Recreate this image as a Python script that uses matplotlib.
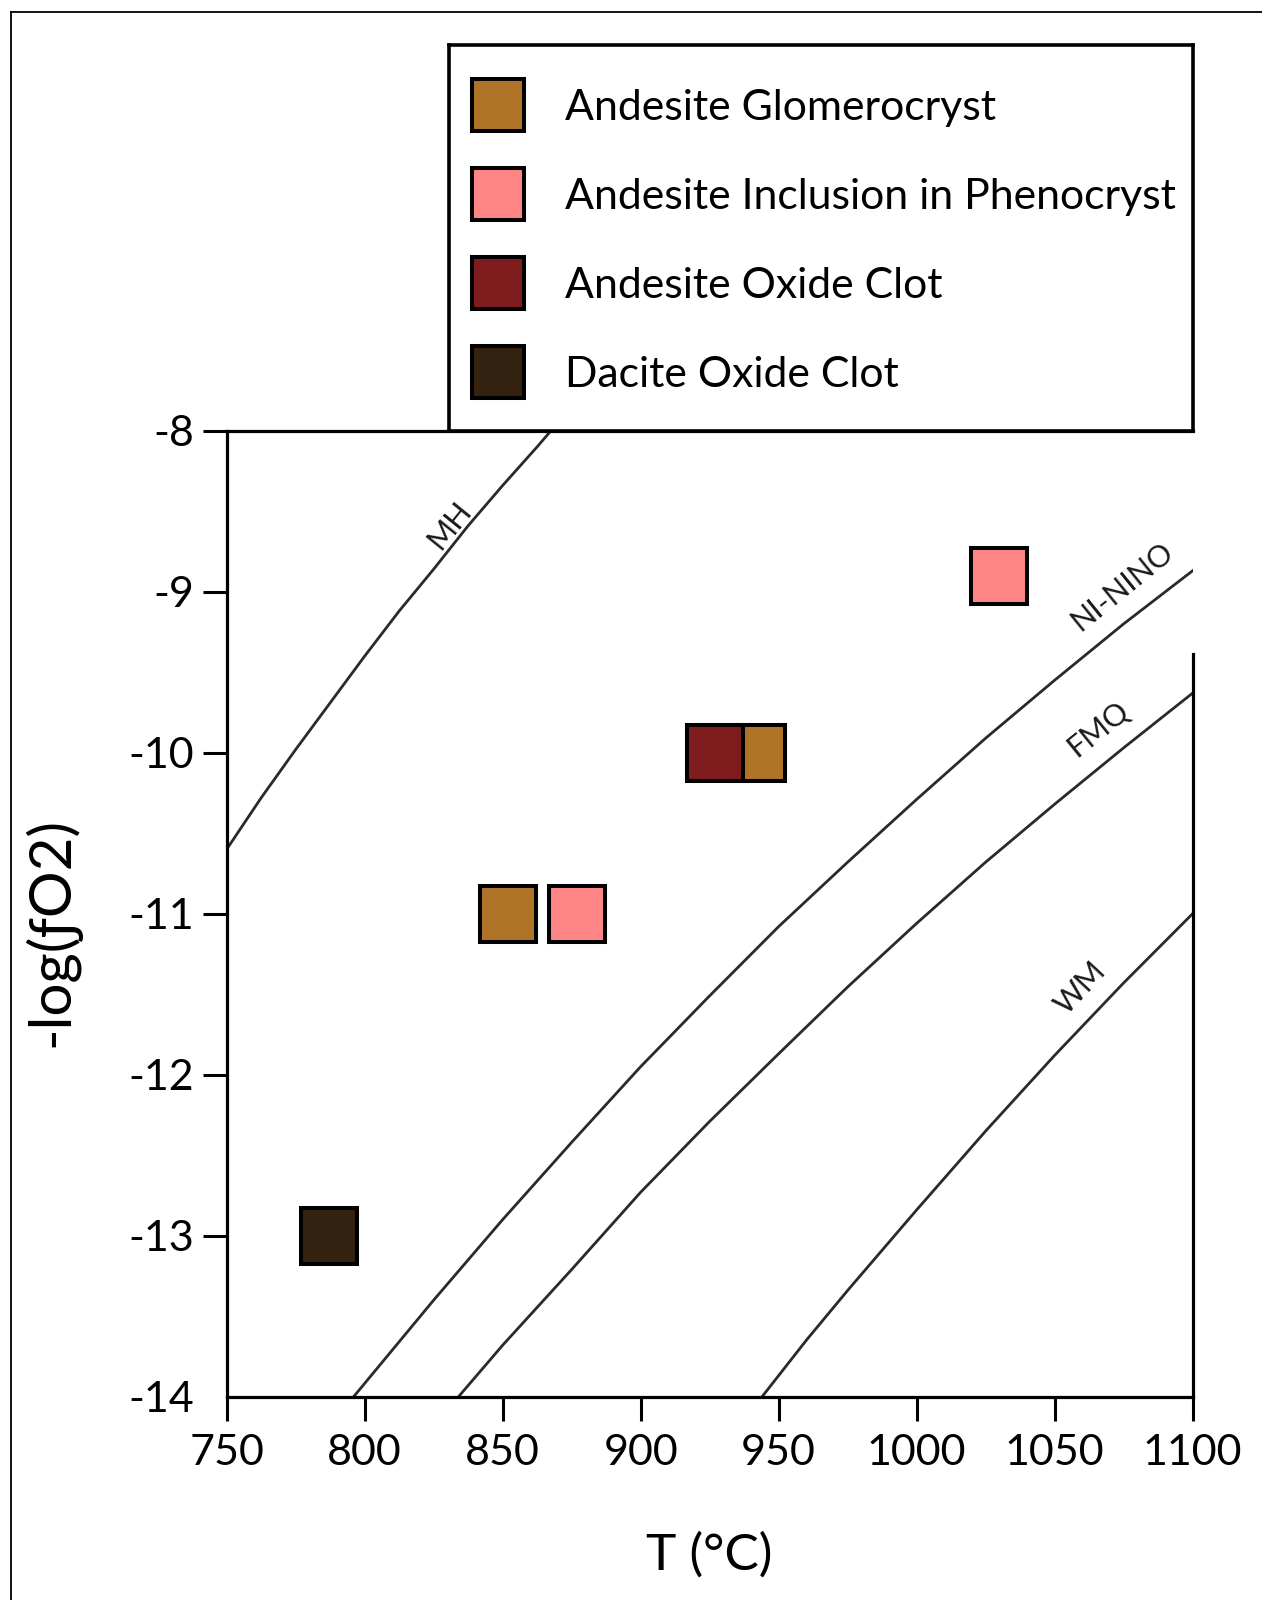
import matplotlib
matplotlib.use('Agg')
import matplotlib.pyplot as plt
from matplotlib.lines import Line2D

plt.rcParams['font.family'] = ['Lato', 'DejaVu Sans']
plt.rcParams['axes.unicode_minus'] = False

# groups shown in the legend
grupos = ['Andesite Glomerocryst', 'Andesite Inclusion in Phenocryst',
          'Andesite Oxide Clot', 'Dacite Oxide Clot']
cores = ['#B07428', '#FF8686', '#7E1C1E', '#33220F']

# T (C) and -log(fO2) of each sample
temp_glom = [852, 942]
fo2_glom = [-11.0, -10.0]
temp_incl = [877, 1030]
fo2_incl = [-11.0, -8.9]
temp_oxid = [927]
fo2_oxid = [-10.0]
temp_dac = [787]
fo2_dac = [-13.0]

# buffer curves
mh_t = [750, 762.5, 775, 787.5, 800, 812.5, 825, 837.5, 850, 862.5, 869]
mh_f = [-10.6, -10.28, -9.98, -9.69, -9.40, -9.12, -8.86, -8.59, -8.34, -8.10, -7.97]
nno_t = [796, 825, 850, 875, 900, 925, 950, 975, 1000, 1025, 1050, 1075, 1100]
nno_f = [-14.0, -13.40, -12.9, -12.42, -11.95, -11.51, -11.08, -10.68, -10.29,
         -9.91, -9.55, -9.20, -8.87]
fmq_t = [834, 850, 875, 900, 925, 950, 975, 1000, 1025, 1050, 1075, 1100]
fmq_f = [-14.0, -13.68, -13.21, -12.73, -12.29, -11.87, -11.455, -11.06,
         -10.68, -10.32, -9.97, -9.63]
wm_t = [944, 960, 975, 1000, 1025, 1050, 1075, 1100]
wm_f = [-14.0, -13.65, -13.34, -12.84, -12.35, -11.88, -11.43, -11.0]
nomes_buffer = ['MH', 'NI-NINO', 'FMQ', 'WM']

x_ticks = [750, 800, 850, 900, 950, 1000, 1050, 1100]
y_ticks = [-8, -9, -10, -11, -12, -13, -14]

W, H = 1262, 1600
fig = plt.figure(figsize=(W / 100, H / 100), dpi=100)

# main axes (pixel box converted to figure fractions)
l, r, t, b = 226.7, 1192.6, 430.7, 1396.7
ax = fig.add_axes([l / W, 1 - b / H, (r - l) / W, (b - t) / H])

cor_linha = '#2a2a2a'
for tt, ff in [(mh_t, mh_f), (nno_t, nno_f), (fmq_t, fmq_f), (wm_t, wm_f)]:
    ax.plot(tt, ff, color=cor_linha, lw=2.0, zorder=1, solid_joinstyle='round')

# labels on the buffer lines
rotulos = [(830.6, -8.59, 51), (1074.4, -8.97, 39), (1065.7, -9.85, 39), (1059.5, -11.46, 47)]
for nome, (xt, yt, rot) in zip(nomes_buffer, rotulos):
    ax.text(xt, yt, nome, rotation=rot, ha='center', va='center',
            fontsize=22, color='#1a1a1a', rotation_mode='anchor')

ms, mew = 40, 2.9
ax.plot(temp_glom, fo2_glom, 's', ms=ms, mfc=cores[0], mec='k', mew=mew, zorder=3)
ax.plot(temp_incl, fo2_incl, 's', ms=ms, mfc=cores[1], mec='k', mew=mew, zorder=3)
ax.plot(temp_oxid, fo2_oxid, 's', ms=ms, mfc=cores[2], mec='k', mew=mew, zorder=3)
ax.plot(temp_dac, fo2_dac, 's', ms=ms, mfc=cores[3], mec='k', mew=mew, zorder=3)

ax.set_xlim(750, 1100)
ax.set_ylim(-14, -8)
ax.set_xticks(x_ticks)
ax.set_xticklabels([str(v) for v in x_ticks])
ax.set_yticks(y_ticks)
ax.set_yticklabels([str(v) for v in y_ticks])
ax.tick_params(direction='out', length=17.5, width=2.2, labelsize=31, pad=6)
ax.tick_params(axis='x', pad=9.5)
for tk in ax.yaxis.get_major_ticks():
    if tk.get_loc() == -14:
        tk.tick1line.set_visible(False)

for s in ['left', 'bottom', 'top', 'right']:
    ax.spines[s].set_linewidth(2.3)
ax.spines['right'].set_bounds(-14, -9.39)

ax.set_xlabel('T (°C)', fontsize=37)
ax.xaxis.set_label_coords(0.5, -0.14)
ax.set_ylabel('-log(ƒO2)', fontsize=42)
ax.yaxis.set_label_coords(-0.152, 0.481)

# legend box
ll, lr, lt, lb = 449, 1193, 45, 430.7
lax = fig.add_axes([ll / W, 1 - lb / H, (lr - ll) / W, (lb - lt) / H])
lax.set_xticks([])
lax.set_yticks([])
for s in lax.spines.values():
    s.set_linewidth(2.6)
handles = [Line2D([], [], ls='none', marker='s', ms=38, mfc=c,
                  mec='k', mew=mew) for c in cores]
lax.legend(handles, grupos, loc='center left', bbox_to_anchor=(0.033, 0.4905),
           frameon=False, fontsize=30.8, handlelength=1.13, handletextpad=1.0,
           labelspacing=1.19, borderpad=0, borderaxespad=0)

# outer frame (left and top only)
fig.add_artist(Line2D([11 / W, 11 / W], [0, 1 - 12 / H], color='k', lw=1.3,
                      transform=fig.transFigure))
fig.add_artist(Line2D([11 / W, 1], [1 - 12 / H, 1 - 12 / H], color='k', lw=1.3,
                      transform=fig.transFigure))

fig.savefig('out.png', dpi=100)
